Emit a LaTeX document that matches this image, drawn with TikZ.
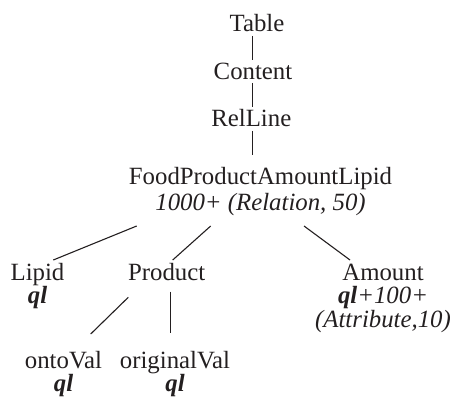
\documentclass[tikz,border=0pt]{standalone}
\usepackage{fontspec}
\setmainfont{Liberation Serif}
\definecolor{ink}{HTML}{231F20}
\begin{document}
\begin{tikzpicture}[x=1pt,y=-1pt,
  lbl/.style={anchor=base,inner sep=0pt,align=center,text=ink,font=\fontsize{24.8}{23.5}\selectfont},
  edge/.style={draw=ink,line width=1.1pt}]
\useasboundingbox (0,0) rectangle (452,403);
\newcommand{\qlb}{\textbf{\textit{ql}}}
% base anchor = baseline of the last line
\node[lbl] (table) at (257,32) {Table};
\node[lbl] (content) at (253,80) {Content};
\node[lbl] (relline) at (251.3,127) {RelLine};
\node[lbl,font=\fontsize{24.8}{25.5}\selectfont] (food) at (260.5,210.5) {FoodProductAmountLipid\\\textit{1000+ (Relation, 50)}};
\node[lbl] (lipid) at (37.5,303.5) {Lipid\\\qlb};
\node[lbl] (product) at (166.7,280) {Product};
\node[lbl] (amount) at (383,327) {Amount\\\qlb\textit{+100+}\\\textit{(Attribute,10)}};
\node[lbl] (ontoval) at (63.5,391.5) {ontoVal\\\qlb};
\node[lbl] (origval) at (175,391.5) {originalVal\\\qlb};
\draw[edge] ([shift={(-4.7,4)}]table.base) -- ([shift={(-0.7,-20)}]content.base);
\draw[edge] ([shift={(-0.7,3)}]content.base) -- ([shift={(1,-20)}]relline.base);
\draw[edge] ([shift={(1,4)}]relline.base) -- ([shift={(-8.2,-55.5)}]food.base);
\draw[edge] ([shift={(-123.8,15.5)}]food.base) -- ([shift={(15.8,-43.5)}]lipid.base);
\draw[edge] ([shift={(-49.8,15.5)}]food.base) -- ([shift={(6,-20)}]product.base);
\draw[edge] ([shift={(43.5,15.5)}]food.base) -- ([shift={(-33,-67)}]amount.base);
\draw[edge] ([shift={(-38.4,17.3)}]product.base) -- ([shift={(27.2,-57.5)}]ontoval.base);
\draw[edge] ([shift={(4,11.7)}]product.base) -- ([shift={(-4.3,-58.5)}]origval.base);
\end{tikzpicture}
\end{document}
